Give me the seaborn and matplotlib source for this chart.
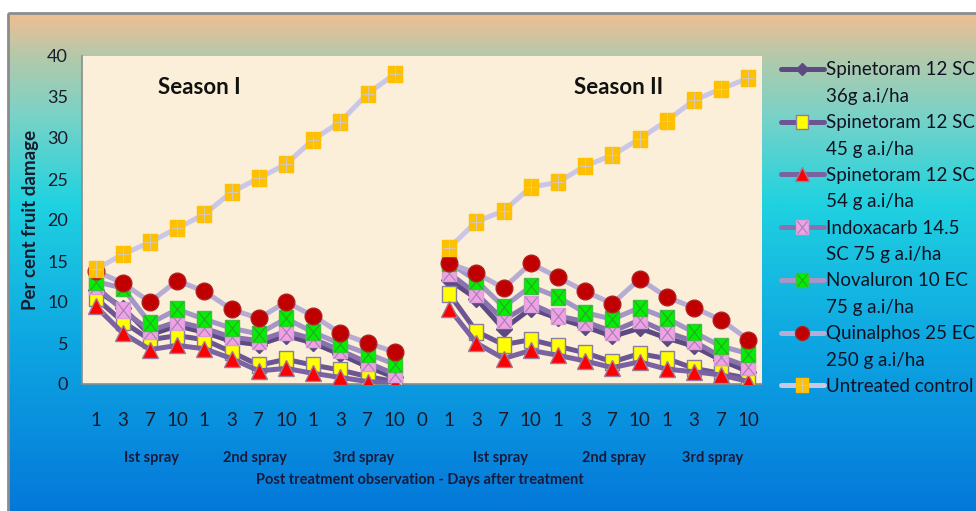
import numpy as np
import pandas as pd
import matplotlib.pyplot as plt
import seaborn as sns
from matplotlib.path import Path
from matplotlib.lines import Line2D
from matplotlib.colors import LinearSegmentedColormap
from matplotlib.legend_handler import HandlerTuple
from matplotlib.patches import Rectangle

sns.set_style("white")
plt.rcParams['font.family'] = ['Lato', 'DejaVu Sans']

# --- data ---
days = ['1', '3', '7', '10'] * 3
tick_labels = days + ['0'] + days
spray_labels = ['Ist spray', '2nd spray', '3rd spray'] * 2
season_titles = ['Season I', 'Season II']

spin36_s1 = [11.5, 9.3, 6.0, 7.1, 6.3, 5.2, 4.8, 5.9, 5.0, 3.6, 2.1, 0.8]
spin36_s2 = [12.7, 10.4, 6.7, 9.2, 8.0, 7.0, 5.8, 6.8, 5.6, 4.6, 2.9, 1.5]
spin45_s1 = [10.5, 7.6, 5.4, 5.9, 5.4, 3.9, 2.3, 3.0, 2.3, 1.7, 0.9, 0.3]
spin45_s2 = [11.0, 6.4, 4.8, 5.4, 4.6, 3.8, 2.7, 3.7, 3.1, 1.9, 1.3, 0.7]
spin54_s1 = [9.5, 6.2, 4.2, 4.7, 4.3, 3.1, 1.6, 1.9, 1.3, 0.8, 0.3, 0.1]
spin54_s2 = [9.2, 5.0, 3.1, 4.1, 3.5, 2.8, 2.0, 2.7, 1.8, 1.5, 1.1, 0.3]
indox_s1 = [11.9, 9.0, 6.5, 7.6, 6.8, 5.7, 5.3, 6.4, 5.5, 4.1, 2.6, 1.2]
indox_s2 = [13.5, 11.0, 7.8, 9.8, 8.3, 7.6, 6.4, 7.8, 6.3, 5.2, 3.3, 2.1]
noval_s1 = [12.5, 11.7, 7.4, 9.1, 7.9, 6.8, 6.1, 8.0, 6.3, 4.9, 3.7, 2.4]
noval_s2 = [14.8, 12.6, 9.4, 11.9, 10.6, 8.7, 7.9, 9.3, 8.0, 6.3, 4.6, 3.7]
quin_s1 = [13.8, 12.3, 10.0, 12.6, 11.3, 9.1, 8.0, 10.0, 8.3, 6.2, 5.0, 3.9]
quin_s2 = [14.7, 13.5, 11.7, 14.7, 13.0, 11.3, 9.8, 12.8, 10.6, 9.3, 7.8, 5.4]
ctrl_s1 = [14.0, 15.8, 17.3, 19.0, 20.7, 23.4, 25.1, 26.8, 29.8, 32.0, 35.4, 37.8]
ctrl_s2 = [16.6, 19.8, 21.1, 24.0, 24.6, 26.6, 27.9, 29.9, 32.1, 34.6, 36.0, 37.3]

legend_labels = [
    ('Spinetoram 12 SC', '36g a.i/ha'),
    ('Spinetoram 12 SC', '45 g a.i/ha'),
    ('Spinetoram 12 SC', '54 g a.i/ha'),
    ('Indoxacarb 14.5', 'SC 75 g a.i/ha'),
    ('Novaluron 10 EC', '75 g a.i/ha'),
    ('Quinalphos 25 EC', '250 g a.i/ha'),
    ('Untreated control', None),
]
season1 = [spin36_s1, spin45_s1, spin54_s1, indox_s1, noval_s1, quin_s1, ctrl_s1]
season2 = [spin36_s2, spin45_s2, spin54_s2, indox_s2, noval_s2, quin_s2, ctrl_s2]

# positions: 12 obs, one empty "0" slot, 12 obs
pos_s1 = list(range(12))
pos_s2 = list(range(13, 25))

# --- marker shapes (Excel's squares look a bit tall) ---
rect = Path([(-0.8, -1), (0.8, -1), (0.8, 1), (-0.8, 1), (-0.8, -1)],
            [Path.MOVETO, Path.LINETO, Path.LINETO, Path.LINETO, Path.CLOSEPOLY])
cross = Path([(-0.8, -1), (0.8, 1), (-0.8, 1), (0.8, -1)],
             [Path.MOVETO, Path.LINETO, Path.MOVETO, Path.LINETO])
plus = Path([(0, -1), (0, 1), (-0.8, 0), (0.8, 0)],
            [Path.MOVETO, Path.LINETO, Path.MOVETO, Path.LINETO])

styles = [
    dict(color='#5E4A82', marker='D', ms=8, mfc='#5E4A82', mec='#5E4A82', inner=None),
    dict(color='#6C5592', marker=rect, ms=12, mfc='#FFFF00', mec='#8A7FA0', inner=None),
    dict(color='#7A63A0', marker='^', ms=12, mfc='#FF0000', mec='#A07A9A', inner=None),
    dict(color='#8873AE', marker=rect, ms=12, mfc='#F4A0E4', mec='#D8A0D8', inner=(cross, '#9C84B4')),
    dict(color='#A496C6', marker=rect, ms=12, mfc='#00F000', mec='#40C040', inner=(cross, '#30A030')),
    dict(color='#B6ACD4', marker='o', ms=12, mfc='#C00000', mec='#B02020', inner=None),
    dict(color='#CAC6E6', marker=rect, ms=12, mfc='#FFC000', mec='#FFC000', inner=(plus, '#D8C8B0')),
]

W, H = 976, 511
fig = plt.figure(figsize=(W / 100, H / 100), dpi=100)

# gradient background with grey frame
bg = fig.add_axes([0, 0, 1, 1], zorder=-10)
bg.set_xlim(0, W)
bg.set_ylim(H, 0)
bg.axis('off')
grad_cmap = LinearSegmentedColormap.from_list(
    'bg', [(0, '#F0BE92'), (0.085, '#B4C9AA'), (0.2, '#7CD2C6'),
           (0.38, '#20D2E0'), (0.65, '#0EA8E2'), (1.0, '#0478DA')])
grad = np.linspace(0, 1, 256).reshape(-1, 1)
bg.imshow(grad, cmap=grad_cmap, aspect='auto', extent=[8, W, H, 13])
bg.add_patch(Rectangle((8, 13), W, H, fill=False, edgecolor='#8C8C8C', lw=2))

ax = fig.add_axes([82 / W, 1 - 384 / H, 680 / W, 328 / H])
ax.set_facecolor('#FBEFD9')

handles = []
for i, st in enumerate(styles):
    for pos, vals in ((pos_s1, season1[i]), (pos_s2, season2[i])):
        df = pd.DataFrame({'x': pos, 'y': vals})
        sns.lineplot(data=df, x='x', y='y', ax=ax, color=st['color'], linewidth=3.6,
                     marker=st['marker'], markersize=st['ms'], markerfacecolor=st['mfc'],
                     markeredgecolor=st['mec'], markeredgewidth=1.0, zorder=2 + i)
        if st['inner'] is not None:
            ax.plot(pos, vals, linestyle='none', marker=st['inner'][0], markersize=st['ms'] - 1,
                    markerfacecolor='none', markeredgecolor=st['inner'][1],
                    markeredgewidth=0.8, zorder=2 + i)
    h_line = Line2D([], [], color=st['color'], lw=3.6, marker=st['marker'],
                    ms=st['ms'] - 2, mfc=st['mfc'], mec=st['mec'], mew=1.0)
    if st['inner'] is not None:
        h_in = Line2D([], [], linestyle='none', marker=st['inner'][0], ms=st['ms'] - 3,
                      mfc='none', mec=st['inner'][1], mew=0.8)
        handles.append((h_line, h_in))
    else:
        handles.append(h_line)

ax.set_xlim(-0.5, 24.5)
ax.set_ylim(0, 40)
ax.set_yticks(np.arange(0, 41, 5))
ax.set_xticks(range(25))
ax.set_xticklabels(tick_labels)
ax.set_xticks(np.arange(-0.5, 25, 1), minor=True)
ax.tick_params(axis='x', which='major', length=0, pad=20, labelsize=13.5, labelcolor='#1A1A2A')
ax.tick_params(axis='x', which='minor', length=6, width=1, color='#8C8C8C', direction='out')
ax.tick_params(axis='y', length=6, width=1, color='#8C8C8C', direction='out',
               labelsize=13, labelcolor='#1A1A2A', pad=4)
for side in ('top', 'right'):
    ax.spines[side].set_visible(False)
for side in ('left', 'bottom'):
    ax.spines[side].set_color('#8C8C8C')
    ax.spines[side].set_linewidth(1.2)
ax.set_xlabel('')
ax.set_ylabel('Per cent fruit damage', fontsize=13.5, fontweight='bold',
              color='#1A1A2A', labelpad=6)

# season titles
ax.text(2.3, 36.1, season_titles[0], fontsize=16, fontweight='bold', color='#111111',
        ha='left', va='center')
ax.text(17.6, 36.1, season_titles[1], fontsize=16, fontweight='bold', color='#111111',
        ha='left', va='center')

# spray group labels below the day ticks
spray_x = [2.07, 5.86, 9.87, 14.9, 19.06, 22.7]
for xs, lab in zip(spray_x, spray_labels):
    ax.text(xs, -0.226, lab, transform=ax.get_xaxis_transform(), fontsize=10.5,
            fontweight='bold', color='#1A1A3A', ha='center', va='center')
fig.text(420 / W, 1 - 480 / H, 'Post treatment observation - Days after treatment',
         fontsize=10.5, fontweight='bold', color='#1A1A3A', ha='center', va='center')

# legend: one row for each label line, handle on the first line
leg_handles, leg_labels = [], []
blank = Line2D([], [], color='none')
for h, (l1, l2) in zip(handles, legend_labels):
    leg_handles.append(h)
    leg_labels.append(l1)
    if l2 is not None:
        leg_handles.append(blank)
        leg_labels.append(l2)
leg = fig.legend(leg_handles, leg_labels, loc='upper left',
                 bbox_to_anchor=(773 / W, 1 - 54 / H), frameon=False, fontsize=13.5,
                 handlelength=2.3, handletextpad=0.15, labelspacing=0.5,
                 borderaxespad=0, handler_map={tuple: HandlerTuple(ndivide=1)})
for t in leg.get_texts():
    t.set_color('#111122')

plt.savefig('out.png', dpi=100)
